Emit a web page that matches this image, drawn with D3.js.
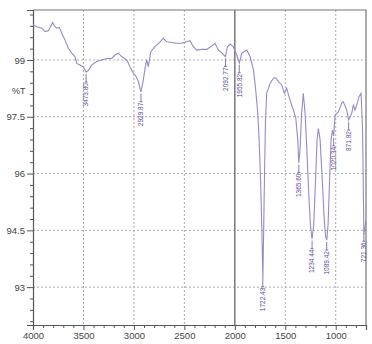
<!DOCTYPE html>
<html>
<head>
<meta charset="utf-8">
<script src="https://cdn.jsdelivr.net/npm/d3@7"></script>
<style>
  body { margin: 0; background: #fff; }
  svg { font-family: "Liberation Sans", Arial, sans-serif; }
</style>
</head>
<body>
<div id="chart"></div>
<script>
// spectrum: wavenumber (cm-1) and %T
const wavenumbers = [4000, 3963, 3914, 3881, 3848, 3825, 3805, 3782, 3765, 3739, 3716, 3683, 3650, 3616, 3584,
    3567, 3534, 3501, 3474, 3452, 3418, 3369, 3319, 3270, 3220, 3187, 3155, 3121, 3071, 3039, 3006, 2979, 2956,
    2930, 2907, 2890, 2873, 2857, 2833, 2791, 2741, 2709, 2675, 2625, 2576, 2526, 2477, 2444, 2411, 2378, 2328,
    2278, 2229, 2196, 2163, 2130, 2093, 2074, 2047, 2015, 1988, 1955, 1931, 1882, 1849, 1815, 1793, 1773, 1760,
    1745, 1732, 1722, 1714, 1705, 1696, 1684, 1651, 1618, 1594, 1569, 1535, 1509, 1486, 1453, 1420, 1396, 1376,
    1366, 1354, 1339, 1321, 1304, 1287, 1269, 1251, 1235, 1218, 1200, 1185, 1172, 1155, 1136, 1116, 1101, 1089,
    1076, 1061, 1046, 1033, 1020, 1006, 974, 940, 925, 891, 872, 841, 825, 809, 792, 769, 749, 734, 721, 700];
const transmittance = [99.93, 99.88, 99.84, 99.75, 99.77, 99.88, 99.99, 99.88, 99.84, 99.86, 99.71, 99.53, 99.31,
    99.18, 99.09, 98.91, 98.87, 98.82, 98.68, 98.72, 98.87, 98.96, 99.00, 99.04, 99.04, 99.13, 99.18, 99.09, 99.00,
    98.82, 98.65, 98.56, 98.43, 98.16, 98.47, 98.78, 99.00, 98.82, 99.22, 99.35, 99.48, 99.57, 99.48, 99.46, 99.44,
    99.44, 99.48, 99.51, 99.35, 99.26, 99.28, 99.28, 99.37, 99.44, 99.26, 99.19, 99.09, 99.34, 99.42, 99.35, 99.18,
    98.92, 99.18, 99.26, 99.09, 98.74, 98.21, 97.60, 96.96, 95.83, 94.51, 93.22, 94.51, 96.09, 97.41, 98.12, 98.38,
    98.52, 98.53, 98.43, 98.34, 98.12, 98.25, 97.94, 97.68, 97.47, 96.89, 96.28, 96.62, 97.55, 98.12, 97.60, 96.70,
    95.56, 94.64, 94.27, 94.64, 95.83, 96.89, 97.19, 96.89, 95.96, 94.90, 94.35, 94.24, 94.64, 95.83, 96.89, 97.15,
    96.99, 97.55, 97.63, 97.86, 97.90, 97.68, 97.41, 97.60, 97.81, 97.68, 97.81, 98.03, 98.12, 97.15, 94.40, 94.75];

const peakLabels = ["3473.80", "2929.87", "2092.77", "1955.82", "1722.43", "1365.60", "1234.44", "1089.42",
    "1020.34", "871.82", "721.36"];

const yTicks = [93, 94.5, 96, 97.5, 99];
const xTicks = [4000, 3500, 3000, 2500, 2000, 1500, 1000];

const margin = {top: 10, right: 6, bottom: 19, left: 33};
const width = 372 - margin.left - margin.right;
const height = 344 - margin.top - margin.bottom;

const svg = d3.select("#chart").append("svg")
    .attr("width", 372)
    .attr("height", 344)
    .append("g")
    .attr("transform", `translate(${margin.left},${margin.top})`);

const x = d3.scaleLinear().domain([4000, 700]).range([0, width]);
const y = d3.scaleLinear().domain([92, 100.32]).range([height, 0]);

// dashed grid
svg.selectAll(".hgrid")
    .data(yTicks)
    .enter().append("line")
    .attr("class", "hgrid")
    .attr("x1", 0).attr("x2", width)
    .attr("y1", d => y(d)).attr("y2", d => y(d))
    .attr("stroke", "#aaa")
    .attr("stroke-dasharray", "2,2");

svg.selectAll(".vgrid")
    .data(xTicks.filter(d => d !== 4000 && d !== 2000))
    .enter().append("line")
    .attr("class", "vgrid")
    .attr("x1", d => x(d)).attr("x2", d => x(d))
    .attr("y1", 0).attr("y2", height)
    .attr("stroke", "#aaa")
    .attr("stroke-dasharray", "2,2");

// solid marker at 2000
svg.append("line")
    .attr("x1", x(2000)).attr("x2", x(2000))
    .attr("y1", 0).attr("y2", height)
    .attr("stroke", "#777")
    .attr("stroke-width", 1.5);

// frame
svg.append("path")
    .attr("d", `M0,0H${width}V${height}`)
    .attr("fill", "none")
    .attr("stroke", "#777")
    .attr("stroke-width", 1.2);

// axes
const yMinor = d3.range(92.1, 100.3, 0.3).filter(v => !yTicks.some(t => Math.abs(t - v) < 0.01));
const xMinor = d3.range(800, 4000, 100).filter(v => v % 500 !== 0);

svg.append("g")
    .call(d3.axisLeft(y).tickValues(yMinor).tickSize(3).tickFormat(""))
    .call(g => g.select(".domain").remove())
    .selectAll("line").attr("stroke", "#555");

const yAxis = svg.append("g")
    .call(d3.axisLeft(y).tickValues(yTicks).tickSize(6).tickPadding(2).tickFormat(d3.format("")));
yAxis.select(".domain").attr("stroke", "#555").attr("stroke-width", 1.2);
yAxis.selectAll("line").attr("stroke", "#555");
yAxis.selectAll("text").attr("font-size", 9.5).attr("fill", "#444");

svg.append("g")
    .attr("transform", `translate(0,${height})`)
    .call(d3.axisBottom(x).tickValues(xMinor).tickSize(3).tickFormat(""))
    .call(g => g.select(".domain").remove())
    .selectAll("line").attr("stroke", "#555");

const xAxis = svg.append("g")
    .attr("transform", `translate(0,${height})`)
    .call(d3.axisBottom(x).tickValues(xTicks).tickSize(5).tickPadding(2).tickFormat(d3.format("")));
xAxis.select(".domain").attr("stroke", "#555").attr("stroke-width", 1.2);
xAxis.selectAll("line").attr("stroke", "#555");
xAxis.selectAll("text").attr("font-size", 9.5).attr("fill", "#444");

svg.append("text")
    .attr("x", -21)
    .attr("y", 84)
    .attr("font-size", 9)
    .attr("fill", "#444")
    .text("%T");

// spectrum
const spectrum = wavenumbers.map((w, i) => ({w: w, t: transmittance[i]}));

const line = d3.line()
    .x(d => x(d.w))
    .y(d => y(d.t));

svg.append("path")
    .datum(spectrum)
    .attr("d", line)
    .attr("fill", "none")
    .attr("stroke", "#9a89c4")
    .attr("stroke-width", 1.1);

// peak labels hang under each minimum
const sorted = spectrum.slice().sort((a, b) => a.w - b.w);
const bis = d3.bisector(d => d.w).left;
function valueAt(w) {
    let i = bis(sorted, w);
    if (i <= 0) return sorted[0].t;
    if (i >= sorted.length) return sorted[sorted.length - 1].t;
    let a = sorted[i - 1], b = sorted[i];
    return a.t + (b.t - a.t) * (w - a.w) / (b.w - a.w);
}

const peaks = svg.selectAll(".peak")
    .data(peakLabels)
    .enter().append("g")
    .attr("class", "peak")
    .attr("transform", d => `translate(${x(+d)},${y(valueAt(+d))})`);

peaks.append("line")
    .attr("x1", 0).attr("x2", 0)
    .attr("y1", 2).attr("y2", 10)
    .attr("stroke", "#6b56a3")
    .attr("stroke-width", 0.8);

peaks.append("line")
    .attr("x1", -1.5).attr("x2", 1.5)
    .attr("y1", 10).attr("y2", 10)
    .attr("stroke", "#6b56a3")
    .attr("stroke-width", 0.8);

peaks.append("text")
    .attr("transform", "translate(2.3,11) rotate(-90)")
    .attr("text-anchor", "end")
    .attr("font-size", 6.5)
    .attr("fill", "#5e4896")
    .text(d => d);
</script>
</body>
</html>
